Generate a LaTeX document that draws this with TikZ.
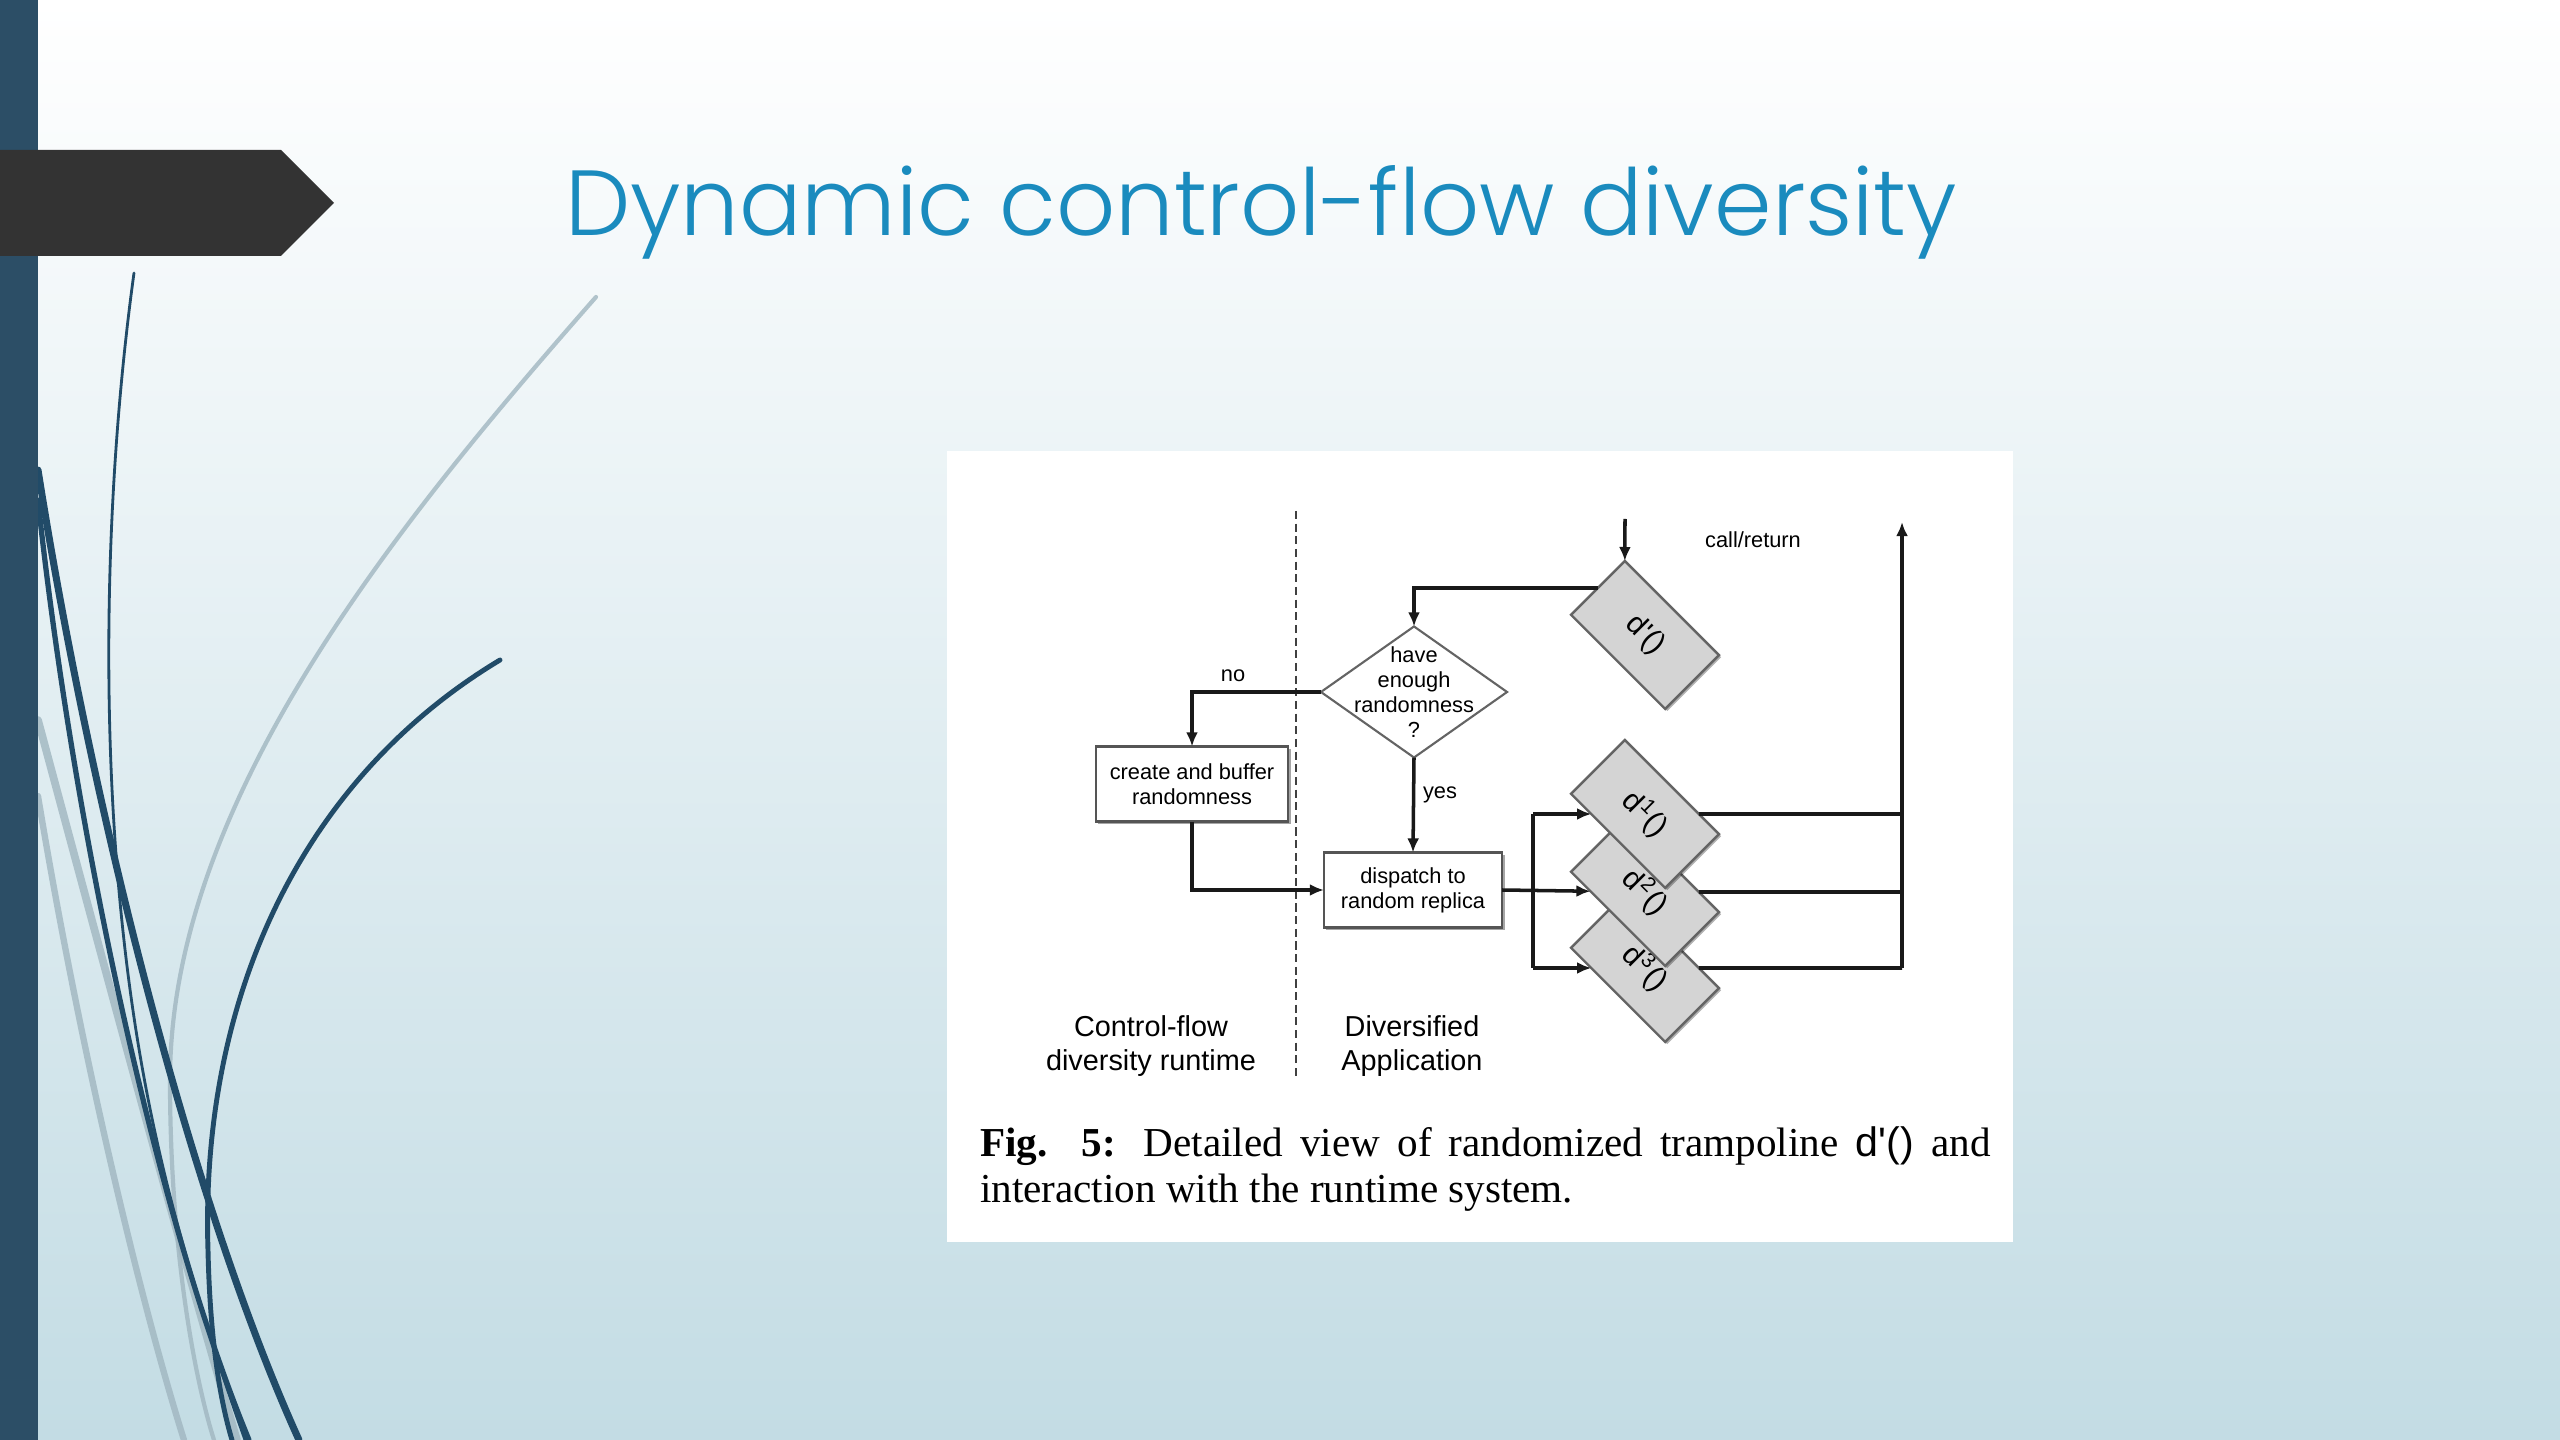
\documentclass[tikz,border=0pt]{standalone}
\usepackage{fontspec}
\setmainfont{Liberation Serif}
\newfontfamily\figsans{Liberation Sans}
\newfontfamily\titlefont{Poppins}[UprightFont=* Light]
\usetikzlibrary{arrows.meta,shapes.geometric,shadows,calc}
\definecolor{barblue}{RGB}{44,78,102}
\definecolor{banner}{RGB}{51,51,51}
\definecolor{titleblue}{RGB}{26,139,190}
\definecolor{bgmid}{RGB}{226,238,242}
\definecolor{bgbot}{RGB}{195,220,228}
\definecolor{curvedark}{RGB}{33,75,104}
\definecolor{curvelight}{RGB}{160,182,192}
\definecolor{boxline}{RGB}{85,85,85}
\definecolor{dfill}{RGB}{212,212,212}
\definecolor{dline}{RGB}{100,100,100}
\begin{document}
\begin{tikzpicture}[x=0.01cm,y=-0.01cm,
  every node/.style={inner sep=0pt, outer sep=0pt},
  conn/.style={line width=1.0pt, black!90},
  arr/.style={conn, -{Latex[length=4pt,width=3.4pt]}},
  procbox/.style={draw=boxline, line width=0.8pt, fill=white, rectangle,
    font=\figsans\fontsize{6.2}{7.1}\selectfont, align=center,
    drop shadow={shadow xshift=0.7pt, shadow yshift=-0.7pt, opacity=0.35, fill=black}},
  decision/.style={draw=dline, line width=0.6pt, fill=white, diamond, aspect=1.42,
    minimum width=1.86cm, minimum height=1.31cm},
  replica/.style={draw=dline, line width=0.7pt, fill=dfill, rectangle, rotate=-45,
    minimum width=1.33cm, minimum height=0.76cm, font=\figsans\fontsize{8.5}{9}\selectfont,
    drop shadow={shadow xshift=0.6pt, shadow yshift=-0.6pt, opacity=0.3, fill=black}},
  smalllbl/.style={font=\figsans\fontsize{6.2}{7.1}\selectfont},
  sidelbl/.style={font=\figsans\fontsize{8.2}{9.7}\selectfont, align=center},
  darkcurve/.style={draw=curvedark, line cap=round},
  lightcurve/.style={draw=curvelight, line cap=round, opacity=0.8}
]
\useasboundingbox (0,0) rectangle (2560,1440);
% background
\shade[top color=white, middle color=bgmid, bottom color=bgbot] (0,0) rectangle (2560,1440);
% decorative curves
\draw[lightcurve, line width=1.2pt] (596,297) .. controls (400,520) and (170,800) .. (170,1080) .. controls (170,1250) and (195,1380) .. (214,1440);
\draw[lightcurve, line width=2.2pt] (38,720) .. controls (100,950) and (180,1250) .. (237,1440);
\draw[lightcurve, line width=1.8pt] (38,796) .. controls (80,1050) and (140,1300) .. (184,1440);
\draw[darkcurve, line width=0.8pt] (134,273) .. controls (100,520) and (95,850) .. (153,1123) .. controls (180,1250) and (220,1370) .. (245,1440);
\draw[darkcurve, line width=2.0pt] (38,470) .. controls (90,800) and (190,1200) .. (299,1440);
\draw[darkcurve, line width=1.5pt] (38,500) .. controls (70,800) and (150,1200) .. (249,1440);
\draw[darkcurve, line width=1.4pt] (500,660) .. controls (300,780) and (200,1000) .. (208,1250) .. controls (210,1340) and (220,1400) .. (232,1440);
% left bar and banner
\fill[barblue] (0,0) rectangle (38,1440);
\fill[banner] (0,150) -- (281,150) -- (334,203) -- (281,256) -- (0,256) -- cycle;
% title
\node[anchor=base west, text=titleblue, font=\titlefont\fontsize{26.3}{31}\selectfont] (title) at (565,236) {Dynamic control-flow diversity};
% figure panel
\fill[white] (947,451) rectangle (2013,1242);
% dashed separator
\draw[draw=black!75, line width=0.6pt, dash pattern=on 2.3pt off 1.3pt] (1296,511) -- (1296,1078);
% nodes
\node[decision, label={[smalllbl, align=center]center:have\\enough\\randomness\\?}] (dec) at (1414,692) {};
\node[procbox, minimum width=1.92cm, minimum height=0.75cm] (create) at (1192,784) {create and buffer\\randomness};
\node[procbox, minimum width=1.78cm, minimum height=0.75cm] (dispatch) at (1413,890) {dispatch to\\random replica};
\node[replica] (dp) at (1645,635) {d'()};
\node[replica] (d3) at (1645,968) {d\textsuperscript{3}()};
\node[replica] (d2) at (1645,892) {d\textsuperscript{2}()};
\node[replica] (d1) at (1645,814) {d\textsuperscript{1}()};
% labels
\node[smalllbl] (callret) at (1753,540) {call/return};
\node[smalllbl] (nolbl) at (1233,676) {no};
\node[smalllbl] (yeslbl) at (1440,795) {yes};
\node[sidelbl] (rtlbl) at (1151,1046) {Control-flow\\diversity runtime};
\node[sidelbl] (applbl) at (1412,1046) {Diversified\\Application};
% coordinates
\coordinate (cin) at (1625,519);
\coordinate (s1) at (1533,814);
\coordinate (s3) at (1533,968);
\coordinate (r1) at (1902,814);
\coordinate (r2) at (1902,892);
\coordinate (r3) at (1902,968);
\coordinate (rtop) at (1902,522);
% connectors
\draw[arr] (cin) -- (dp.north west);
\draw[arr] (dp.west) -| (dec.north);
\draw[arr] (dec.west) -| (create.north);
\draw[arr] (dec.south) -- (dispatch.north);
\draw[arr] (create.south) |- (dispatch.west);
\draw[arr] (dispatch.east) -- (d2);
\draw[conn] (s1) -- (s3);
\draw[arr] (s1) -- (d1);
\draw[arr] (s3) -- (d3);
\draw[conn] (d1) -- (r1);
\draw[conn] (d2) -- (r2);
\draw[conn] (d3) -- (r3);
\draw[arr] (r3) -- (rtop);
% caption
\node[anchor=base west, font=\fontsize{11.7}{14}\selectfont] (cap1) at (980,1156)
  {\makebox[10.1cm][s]{\textbf{Fig. 5:} Detailed view of randomized trampoline {\figsans d'()} and}};
\node[anchor=base west, font=\fontsize{11.7}{14}\selectfont] (cap2) at (980,1202)
  {interaction with the runtime system.};
\end{tikzpicture}
\end{document}
